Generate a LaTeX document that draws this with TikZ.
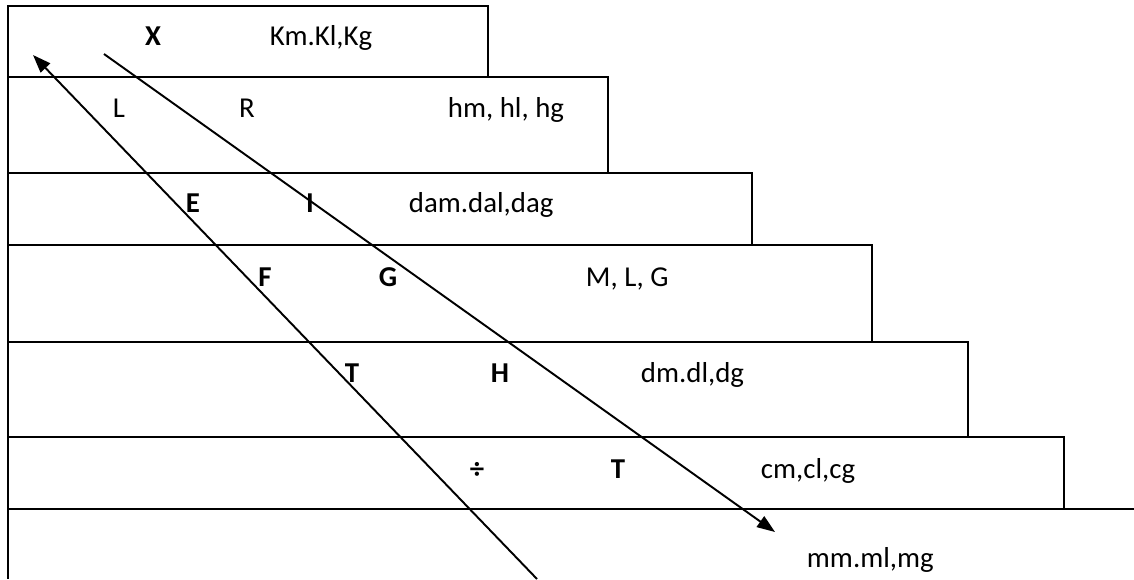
\documentclass[tikz,border=0pt]{standalone}
\usepackage{fontspec}
\setmainfont{Carlito}
\usetikzlibrary{arrows.meta}

\begin{document}
\begin{tikzpicture}[x=0.02cm,y=-0.02cm,line width=1.1pt,
  >={Triangle[length=0.36cm,width=0.26cm]},
  stair/.style={draw,line width=1.1pt},
  letter/.style={font=\fontsize{16.4}{20}\selectfont\bfseries,inner sep=0pt,anchor=base},
  unit/.style={font=\fontsize{16.4}{20}\selectfont,inner sep=0pt,anchor=base west}]

  \useasboundingbox (0,0) rectangle (1134,579);

  \foreach \ya/\yb/\xr in {6/77/488,77/173/608,173/245/752,245/342/872,342/437/968,437/509/1064}
    \draw[stair] (8,\ya) rectangle (\xr,\yb);
  \draw[stair] (1134,509) -- (8,509) -- (8,579);

  \node[letter] (X) at (153,45) {X};
  \node[unit] (kilo) at (269,45) {Km.Kl,Kg};
  \node[unit,font=\fontsize{16.4}{20}\selectfont,anchor=base] (L) at (119,117) {L};
  \node[unit,anchor=base] (R) at (247,117) {R};
  \node[unit] (hecto) at (447,117) {hm, hl, hg};
  \node[letter] (E) at (193,212) {E};
  \node[letter] (I) at (310,212) {I};
  \node[unit] (deca) at (408,212) {dam.dal,dag};
  \node[letter] (F) at (265,286) {F};
  \node[letter] (G) at (388,286) {G};
  \node[unit] (base) at (585,286) {M, L, G};
  \node[letter] (T1) at (352,382) {T};
  \node[letter] (H) at (500,382) {H};
  \node[unit] (deci) at (640,382) {dm.dl,dg};
  \node[letter] (div) at (477,478) {÷};
  \node[letter] (T2) at (618,478) {T};
  \node[unit] (centi) at (760,478) {cm,cl,cg};
  \node[unit] (milli) at (806,567) {mm.ml,mg};

  \coordinate (upStart) at (537,579);
  \coordinate (upTip) at (33,55);
  \coordinate (downStart) at (104,54);
  \coordinate (downTip) at (775,532);
  \draw[->] (upStart) -- (upTip);
  \draw[->] (downStart) -- (downTip);
\end{tikzpicture}
\end{document}
